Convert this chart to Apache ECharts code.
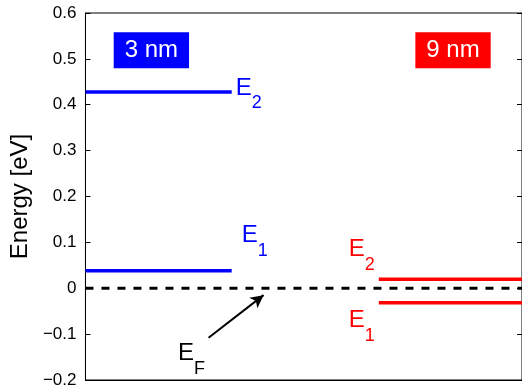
<!DOCTYPE html>
<html>
<head>
<meta charset="utf-8">
<script src="https://cdn.jsdelivr.net/npm/echarts@6/dist/echarts.min.js"></script>
<style>
html, body { margin: 0; padding: 0; background: #fff; }
#chart { width: 522px; height: 391px; }
</style>
</head>
<body>
<div id="chart"></div>
<script>
// energy levels [eV], upper level first
var levels3nm = [0.428, 0.038];
var levels9nm = [0.0195, -0.0315];
// horizontal extent of each well (x axis runs 0..1)
var span3nm = [0, 0.335];
var span9nm = [0.672, 1];
var fermiLevel = 0;
var fermiSpan = [0, 1];
// arrow pointing at the Fermi level
var arrowTail = [0.282, -0.108];
var arrowHead = [0.408, -0.015];
// well size tags
var wellNames = ['3 nm', '9 nm'];
var wellNamePos = [[0.151, 0.519], [0.842, 0.519]];
var yMin = -0.2, yMax = 0.6, yStep = 0.1;

var BLUE = '#0000ff', RED = '#ff0000';
var FONT = 'Liberation Sans';

function levelLine(name, span, y, color) {
  return {
    name: name,
    type: 'line',
    data: [[span[0], y], [span[1], y]],
    symbol: 'none',
    lineStyle: { color: color, width: 3.5 },
    z: 3
  };
}

// E with subscript, centred on a point plus pixel offset
function eLabel(x, y, sub, color, offset) {
  return {
    value: [x, y],
    label: {
      show: true,
      position: 'inside',
      offset: offset,
      formatter: '{e|E}{s|' + sub + '}',
      rich: {
        e: { fontSize: 24, color: color, fontFamily: FONT },
        s: { fontSize: 18, color: color, fontFamily: FONT, padding: [31, 0, 0, 0] }
      }
    }
  };
}

function tag(i, color) {
  return {
    value: wellNamePos[i],
    label: {
      show: true,
      position: 'inside',
      formatter: wellNames[i],
      color: '#fff',
      fontSize: 24,
      fontFamily: FONT,
      backgroundColor: color,
      padding: [6, 11, 6, 11],
      lineHeight: 24
    }
  };
}

var chart = echarts.init(document.getElementById('chart'));
chart.setOption({
  animation: false,
  backgroundColor: '#fff',
  grid: {
    left: 83, right: -1, top: 13, bottom: 11,
    show: true, borderColor: '#000', borderWidth: 1
  },
  xAxis: {
    type: 'value', min: 0, max: 1,
    axisLine: { show: true, onZero: false, lineStyle: { color: '#000' } },
    axisTick: { show: false },
    axisLabel: { show: false },
    splitLine: { show: false }
  },
  yAxis: [
    {
      type: 'value', min: yMin, max: yMax, interval: yStep,
      name: 'Energy [eV]',
      nameLocation: 'middle',
      nameGap: 50,
      nameTextStyle: { fontSize: 24, color: '#000', fontFamily: FONT },
      axisLine: { show: true, lineStyle: { color: '#000' } },
      axisTick: { show: true, inside: true, length: 5, lineStyle: { color: '#000' } },
      axisLabel: {
        margin: 9, fontSize: 17, color: '#000', fontFamily: FONT,
        formatter: function (v) {
          var s = String(+v.toFixed(1));
          return s.replace('-', '\u2212');
        }
      },
      splitLine: { show: false }
    },
    {
      type: 'value', min: yMin, max: yMax, interval: yStep,
      position: 'right',
      axisLine: { show: true, lineStyle: { color: '#000' } },
      axisTick: { show: true, inside: true, length: 5, lineStyle: { color: '#000' } },
      axisLabel: { show: false },
      splitLine: { show: false }
    }
  ],
  series: [
    levelLine('3nm E2', span3nm, levels3nm[0], BLUE),
    levelLine('3nm E1', span3nm, levels3nm[1], BLUE),
    levelLine('9nm E2', span9nm, levels9nm[0], RED),
    levelLine('9nm E1', span9nm, levels9nm[1], RED),
    {
      name: 'EF',
      type: 'line',
      data: [[fermiSpan[0], fermiLevel], [fermiSpan[1], fermiLevel]],
      symbol: 'none',
      lineStyle: { color: '#000', width: 3, type: [8, 8] },
      z: 4,
      markLine: {
        silent: true,
        symbol: ['none', 'arrow'],
        symbolSize: [10, 13],
        label: { show: false },
        lineStyle: { color: '#000', width: 2, type: 'solid' },
        data: [[{ coord: arrowTail }, { coord: arrowHead }]]
      }
    },
    {
      name: 'labels',
      type: 'scatter',
      symbolSize: 0,
      silent: true,
      itemStyle: { opacity: 1 },
      z: 5,
      data: [
        eLabel(span3nm[1], levels3nm[0], '2', BLUE, [17, -4]),
        eLabel(span3nm[1], levels3nm[1], '1', BLUE, [23, -35]),
        eLabel(span9nm[0], levels9nm[0], '2', RED, [-17, -30]),
        eLabel(span9nm[0], levels9nm[1], '1', RED, [-17, 18]),
        eLabel(arrowTail[0], arrowTail[1], 'F', '#000', [-17, 16]),
        tag(0, BLUE),
        tag(1, RED)
      ]
    }
  ]
});
</script>
</body>
</html>
